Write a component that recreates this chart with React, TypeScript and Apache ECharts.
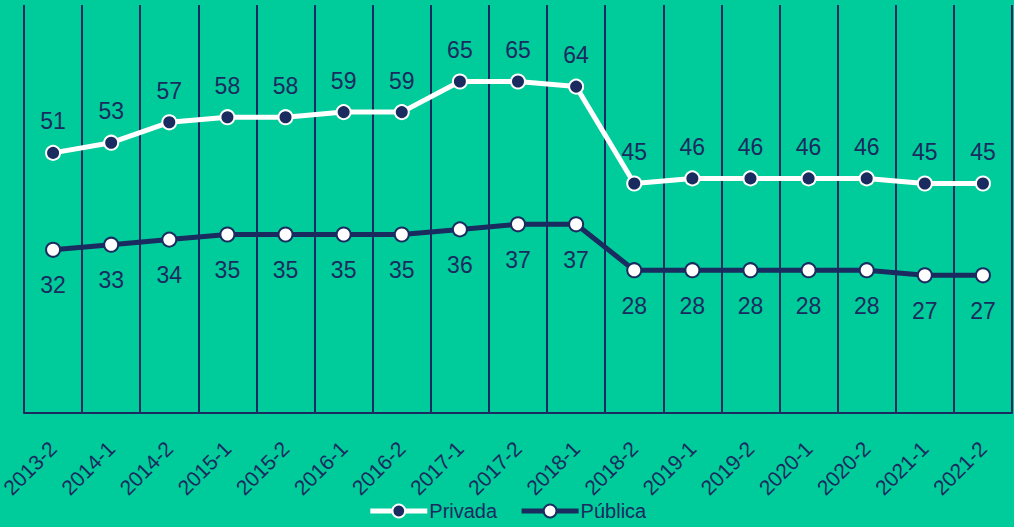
import React, { useEffect, useRef } from "react";
import * as echarts from "echarts";

const categories = ["2013-2","2014-1","2014-2","2015-1","2015-2","2016-1","2016-2","2017-1","2017-2","2018-1","2018-2","2019-1","2019-2","2020-1","2020-2","2021-1","2021-2"];
const privada = [51,53,57,58,58,59,59,65,65,64,45,46,46,46,46,45,45];
const publica = [32,33,34,35,35,35,35,36,37,37,28,28,28,28,28,27,27];

const GREEN = "#00CB9A";
const NAVY = "#1A2B5F";
const FONT = "Liberation Sans, Arial, sans-serif";

export default function App() {
  const ref = useRef<HTMLDivElement>(null);
  useEffect(() => {
    if (!ref.current) return;
    const chart = echarts.init(ref.current, null, { renderer: "svg" });
    chart.setOption({
      animation: false,
      backgroundColor: GREEN,
      textStyle: { fontFamily: FONT },
      grid: { left: 24, right: 2, top: 5, bottom: 114, containLabel: false, outerBoundsMode: "none" },
      legend: {
        bottom: 1,
        left: "center",
        itemWidth: 57,
        itemHeight: 16,
        itemGap: 22,
        lineStyle: { width: 5 },
        textStyle: { color: NAVY, fontSize: 20, fontFamily: FONT, padding: [0, 0, 0, -3] },
        data: ["Privada", "Pública"],
      },
      xAxis: {
        type: "category",
        data: categories,
        boundaryGap: true,
        axisLine: { show: true, lineStyle: { color: NAVY, width: 2 } },
        axisTick: { show: false },
        splitLine: { show: true, lineStyle: { color: NAVY, width: 2 } },
        axisLabel: {
          color: NAVY,
          fontSize: 21,
          rotate: 45,
          margin: 32,
          interval: 0,
          fontFamily: FONT,
        },
      },
      yAxis: {
        type: "value",
        min: 0,
        max: 80,
        show: false,
        splitLine: { show: false },
      },
      series: [
        {
          name: "Privada",
          type: "line",
          data: privada,
          symbol: "circle",
          symbolSize: 14,
          lineStyle: { color: "#FFFFFF", width: 5 },
          itemStyle: { color: NAVY, borderColor: "#FFFFFF", borderWidth: 2 },
          label: {
            show: true,
            position: "top",
            distance: 12,
            color: NAVY,
            fontSize: 23,
            fontFamily: FONT,
          },
        },
        {
          name: "Pública",
          type: "line",
          data: publica,
          symbol: "circle",
          symbolSize: 14,
          lineStyle: { color: NAVY, width: 5 },
          itemStyle: { color: "#FFFFFF", borderColor: NAVY, borderWidth: 2 },
          label: {
            show: true,
            position: "bottom",
            distance: 16,
            color: NAVY,
            fontSize: 23,
            fontFamily: FONT,
          },
        },
      ],
    });
    return () => chart.dispose();
  }, []);
  return <div ref={ref} style={{ width: 1014, height: 527, position: "fixed", left: 0, top: 0 }} />;
}
